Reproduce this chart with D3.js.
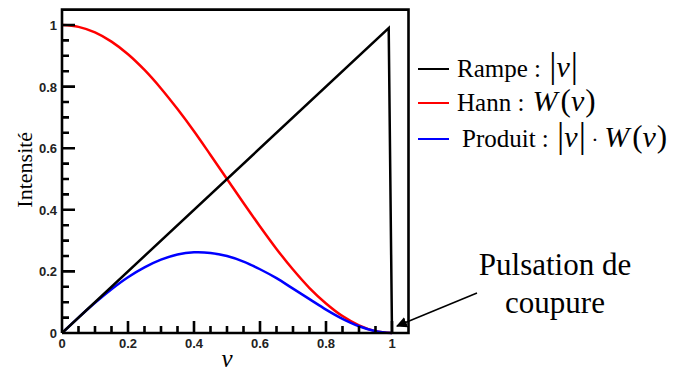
<!DOCTYPE html>
<html><head><meta charset="utf-8">
<script src="https://cdn.jsdelivr.net/npm/d3@7"></script>
<style>body{margin:0;background:#fff}svg{display:block}</style>
</head><body>
<svg id="c" width="678" height="374"></svg>
<script>
const nu = [0,0.05,0.1,0.15,0.2,0.25,0.3,0.35,0.4,0.45,0.5,0.55,0.6,0.65,0.7,0.75,0.8,0.85,0.9,0.95,1.0];
const hann = [1.0,0.994,0.976,0.946,0.905,0.854,0.794,0.727,0.655,0.578,0.5,0.422,0.346,0.273,0.206,0.146,0.096,0.055,0.025,0.006,0.0];
const produit = [0,0.050,0.098,0.142,0.181,0.213,0.238,0.255,0.262,0.260,0.25,0.232,0.207,0.178,0.144,0.110,0.076,0.046,0.022,0.006,0.0];
const rampeNu = [0,0.99,1.0];
const rampeY = [0,0.99,0];
const yTicks = [0,0.2,0.4,0.6,0.8,1];
const yLabels = ["0","0.2","0.4","0.6","0.8","1"];
const xTicks = [0,0.2,0.4,0.6,0.8,1];
const xLabels = ["0","0.2","0.4","0.6","0.8","1"];
const minorTicks = [0.05,0.1,0.15,0.25,0.3,0.35,0.45,0.5,0.55,0.65,0.7,0.75,0.85,0.9,0.95];

const svg = d3.select("#c");
const x = d3.scaleLinear().domain([0,1]).range([62,392]);
const y = d3.scaleLinear().domain([0,1]).range([333,25]);
const serif = "'Liberation Serif','Times New Roman',serif";
const sans = "'Liberation Sans',Arial,sans-serif";

// curves
const smooth = d3.line().x(d=>x(d[0])).y(d=>y(d[1])).curve(d3.curveCatmullRom);
svg.append("path").datum(nu.map((v,i)=>[v,hann[i]])).attr("d",smooth)
  .attr("fill","none").attr("stroke","#ff0000").attr("stroke-width",2.5);
svg.append("path").datum(nu.map((v,i)=>[v,produit[i]])).attr("d",smooth)
  .attr("fill","none").attr("stroke","#0000ff").attr("stroke-width",2.5);
svg.append("path").datum(rampeNu.map((v,i)=>[v,rampeY[i]])).attr("d",d3.line().x(d=>x(d[0])).y(d=>y(d[1])))
  .attr("fill","none").attr("stroke","#000").attr("stroke-width",2.5);

// frame + inward ticks in one path
let fd = `M${x(0)},${y(0)}V${y(1.05)}H${x(1.05)}V${y(0)}H${x(0)}`;
yTicks.forEach(v=>{ fd += `M${x(0)},${y(v)}H${x(0)+13}`; });
minorTicks.forEach(v=>{ fd += `M${x(0)},${y(v)}H${x(0)+7}`; });
xTicks.forEach(v=>{ fd += `M${x(v)},${y(0)}V${y(0)-12}`; });
minorTicks.forEach(v=>{ fd += `M${x(v)},${y(0)}V${y(0)-7}`; });
svg.append("path").attr("d",fd).attr("fill","none").attr("stroke","#000").attr("stroke-width",2.6);

// tick labels
svg.append("g").selectAll("text").data(yTicks).join("text")
  .attr("x",x(0)-5).attr("y",d=>y(d)+5).attr("text-anchor","end")
  .attr("font-family",sans).attr("font-weight","bold").attr("font-size",13).attr("fill","#222")
  .text((d,i)=>yLabels[i]);
svg.append("g").selectAll("text").data(xTicks).join("text")
  .attr("x",d=>x(d)).attr("y",y(0)+15).attr("text-anchor","middle")
  .attr("font-family",sans).attr("font-weight","bold").attr("font-size",13).attr("fill","#222")
  .text((d,i)=>xLabels[i]);

// axis titles
svg.append("text").attr("transform",`translate(32,${y(0.53)}) rotate(-90)`)
  .attr("text-anchor","middle").attr("font-family",serif).attr("font-size",22).text("Intensité");
svg.append("text").attr("x",x(0.5)).attr("y",367).attr("text-anchor","middle")
  .attr("font-family",serif).attr("font-style","italic").attr("font-size",25).text("ν");

// legend
const leg = [
  {color:"#000", y:69, x:457, parts:[["Rampe : ",25,"normal",0],["|",36,"normal",2],["ν",30,"italic",0],["|",36,"normal",1]]},
  {color:"#ff0000", y:103, x:457, parts:[["Hann : ",25,"normal",0],["W",30,"italic",2],["(",31,"normal",3],["ν",30,"italic",0],[")",31,"normal",1]]},
  {color:"#0000ff", y:139, x:462, parts:[["Produit : ",25,"normal",0],["|",36,"normal",2],["ν",30,"italic",0],["|",36,"normal",1],[" · ",22,"normal",0],["W",30,"italic",0],["(",31,"normal",3],["ν",30,"italic",0],[")",31,"normal",1]]}
];
leg.forEach(l=>{
  svg.append("line").attr("x1",418).attr("x2",449).attr("y1",l.y).attr("y2",l.y)
    .attr("stroke",l.color).attr("stroke-width",2);
  const t = svg.append("text").attr("x",l.x).attr("y",l.y+8).attr("font-family",serif).attr("fill","#000");
  l.parts.forEach(p=>t.append("tspan").attr("font-size",p[1]).attr("font-style",p[2]).attr("dx",p[3]).text(p[0]));
});

// annotation
svg.append("defs").append("marker").attr("id","ah").attr("viewBox","0 0 10 10")
  .attr("refX",9).attr("refY",5).attr("markerWidth",11).attr("markerHeight",11)
  .attr("markerUnits","userSpaceOnUse").attr("orient","auto")
  .append("path").attr("d","M0,0L10,5L0,10Z").attr("fill","#000");
svg.append("line").attr("x1",477).attr("y1",293).attr("x2",x(1.0)+5).attr("y2",326)
  .attr("stroke","#000").attr("stroke-width",1.5).attr("marker-end","url(#ah)");
svg.append("text").attr("x",555).attr("y",275).attr("text-anchor","middle")
  .attr("font-family",serif).attr("font-size",31).text("Pulsation de");
svg.append("text").attr("x",555).attr("y",313).attr("text-anchor","middle")
  .attr("font-family",serif).attr("font-size",31).text("coupure");
</script>
</body></html>
